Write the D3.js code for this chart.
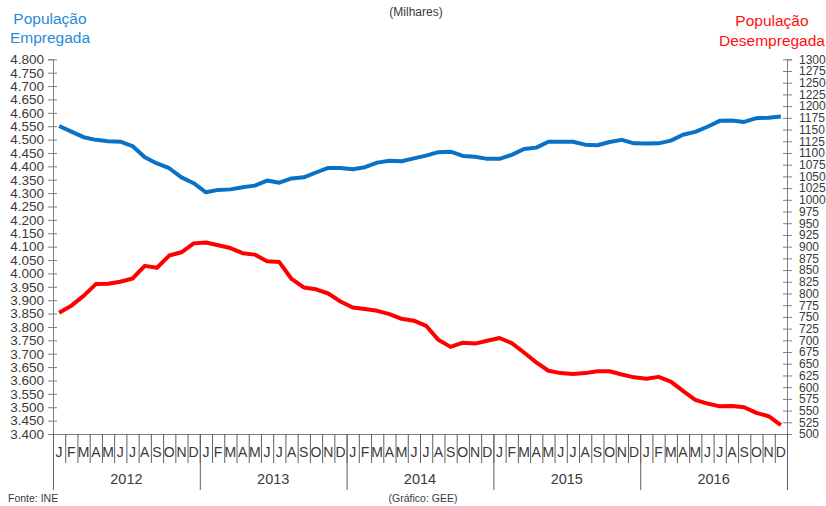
<!DOCTYPE html>
<html><head><meta charset="utf-8">
<script src="https://cdn.jsdelivr.net/npm/d3@7"></script>
<style>
html,body{margin:0;padding:0;background:#fff;}
svg{display:block;font-family:"Liberation Sans",Arial,sans-serif;}
</style></head><body>
<svg id="chart" width="826" height="506"></svg>
<script>
const years = ["2012","2013","2014","2015","2016"];
const monthLetters = ["J","F","M","A","M","J","J","A","S","O","N","D"];
const employed = [
 4551,4530,4509,4499,4494,4492,4476,4434,4411,4393,4359,4337,
 4303,4312,4314,4322,4328,4347,4339,4355,4359,4377,4394,4394,
 4389,4397,4414,4421,4419,4430,4440,4453,4455,4439,4436,4428,
 4428,4443,4465,4470,4492,4492,4492,4481,4479,4491,4499,4486,
 4485,4486,4496,4518,4529,4548,4570,4571,4566,4580,4582,4586];
const unemployed = [
 759,774,795,820,821,825,832,859,855,881,888,907,
 909,903,897,886,883,869,867,831,813,809,800,783,
 770,767,763,756,746,742,731,701,686,695,693,699,
 705,694,674,653,635,630,628,630,634,634,627,621,
 618,622,612,592,573,565,559,560,557,545,538,519];
const leftTicks = d3.range(3400, 4801, 50);
const rightTicks = d3.range(500, 1301, 25);

const svg = d3.select("#chart");
const L = 53, R = 787, T = 59.3, B = 434;
const nMonths = years.length * 12;
const months = d3.range(nMonths);
const xBand = d3.scaleBand().domain(months).range([L, R]).paddingInner(0).paddingOuter(0);
const xLin = d3.scaleLinear().domain([0, nMonths]).range([L, R]);
const yL = d3.scaleLinear().domain([3400, 4800]).range([B, T]);
const yR = d3.scaleLinear().domain([500, 1300]).range([B, T]);
const fmtDot = v => d3.format(",")(v).replace(/,/g, ".");
const axisColor = "#808080";
const textColor = "#3a3a3a";

// Left axis
const gL = svg.append("g").attr("transform", `translate(${L},0)`)
  .call(d3.axisLeft(yL).tickValues(leftTicks).tickSize(5).tickPadding(4).tickFormat(fmtDot));
gL.select(".domain").attr("stroke", axisColor);
gL.selectAll(".tick line").attr("x1", 4).attr("x2", -5).attr("stroke", axisColor);
gL.selectAll(".tick text").attr("fill", textColor).attr("font-size", "13.5px")
  .attr("font-family", "Liberation Sans, Arial, sans-serif");

// Right axis
const gR = svg.append("g").attr("transform", `translate(${R},0)`)
  .call(d3.axisRight(yR).tickValues(rightTicks).tickSize(5).tickPadding(7).tickFormat(d3.format("d")));
gR.select(".domain").attr("stroke", axisColor);
gR.selectAll(".tick line").attr("x1", -4).attr("x2", 5).attr("stroke", axisColor);
gR.selectAll(".tick text").attr("fill", textColor).attr("font-size", "12px")
  .attr("font-family", "Liberation Sans, Arial, sans-serif");

// Bottom axis: month separators
const gM = svg.append("g").attr("transform", `translate(0,${B})`)
  .call(d3.axisBottom(xLin).tickValues(d3.range(0, nMonths + 1)).tickSize(29).tickFormat(""));
gM.select(".domain").attr("stroke", axisColor);
gM.selectAll(".tick line").attr("stroke", "#606060");
// Year separators
const gY = svg.append("g").attr("transform", `translate(0,${B})`)
  .call(d3.axisBottom(xLin).tickValues(d3.range(0, nMonths + 1, 12)).tickSize(56).tickFormat(""));
gY.select(".domain").remove();
gY.selectAll(".tick line").attr("stroke", "#606060");

// Month letters
svg.append("g").selectAll("text").data(months).join("text")
  .attr("x", d => xBand(d) + xBand.bandwidth() / 2)
  .attr("y", 457)
  .attr("text-anchor", "middle")
  .attr("font-size", "14px").attr("fill", textColor)
  .text(d => monthLetters[d % 12]);
// Year labels
svg.append("g").selectAll("text").data(years).join("text")
  .attr("x", (d, i) => (xLin(i * 12) + xLin(i * 12 + 12)) / 2)
  .attr("y", 484)
  .attr("text-anchor", "middle")
  .attr("font-size", "14.5px").attr("fill", textColor)
  .text(d => d);

// Lines
const lineL = d3.line().x((d, i) => xBand(i) + xBand.bandwidth() / 2).y(d => yL(d));
const lineR = d3.line().x((d, i) => xBand(i) + xBand.bandwidth() / 2).y(d => yR(d));
svg.append("path").datum(employed).attr("d", lineL)
  .attr("fill", "none").attr("stroke", "#0a72c6").attr("stroke-width", 4).attr("stroke-linejoin", "round");
svg.append("path").datum(unemployed).attr("d", lineR)
  .attr("fill", "none").attr("stroke", "#ff0000").attr("stroke-width", 4).attr("stroke-linejoin", "round");

// Titles
svg.append("text").attr("x", 416).attr("y", 16).attr("text-anchor", "middle")
  .attr("font-size", "12px").attr("fill", textColor).text("(Milhares)");
const lt = svg.append("text").attr("fill", "#2a8ad8").attr("font-size", "15.5px").attr("text-anchor", "middle");
lt.append("tspan").attr("x", 50).attr("y", 24).text("População");
lt.append("tspan").attr("x", 50).attr("y", 43).text("Empregada");
const rt = svg.append("text").attr("fill", "#ff1010").attr("font-size", "15.5px").attr("text-anchor", "middle");
rt.append("tspan").attr("x", 772).attr("y", 26).text("População");
rt.append("tspan").attr("x", 772).attr("y", 46).text("Desempregada");

// Footer
svg.append("text").attr("x", 8).attr("y", 502).attr("font-size", "10.5px").attr("fill", textColor).text("Fonte: INE");
svg.append("text").attr("x", 423).attr("y", 502).attr("text-anchor", "middle").attr("font-size", "10.5px").attr("fill", textColor).text("(Gráfico: GEE)");
</script></body></html>
